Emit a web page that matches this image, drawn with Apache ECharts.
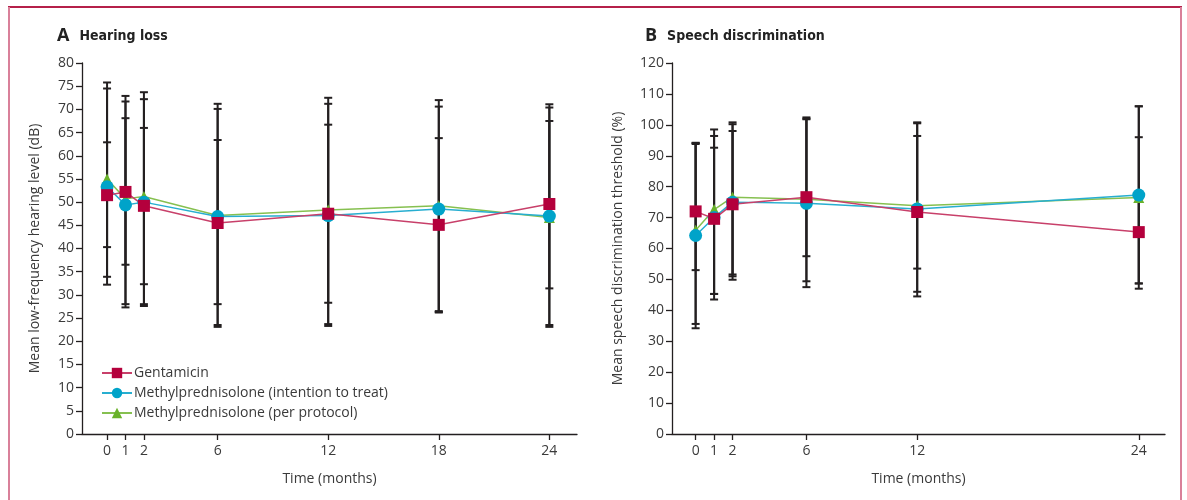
<!DOCTYPE html>
<html>
<head>
<meta charset="utf-8">
<script src="https://cdn.jsdelivr.net/npm/echarts@6/dist/echarts.min.js"></script>
<style>
  html, body { margin: 0; padding: 0; background: #fff; }
  #chart { width: 1187px; height: 500px; }
</style>
</head>
<body>
<div id="chart"></div>
<script>
// ---------- data ----------
const monthsA = [0, 1, 2, 6, 12, 18, 24];
const monthsB = [0, 1, 2, 6, 12, 24];

const gentA    = [51.5, 52.2, 49.2, 45.5, 47.5, 45.1, 49.6];
const gentA_lo = [40.3, 36.5, 32.3, 28.0, 28.3, 26.5, 31.4];
const gentA_hi = [62.9, 68.1, 66.0, 63.4, 66.7, 63.8, 67.5];
const ittA     = [53.3, 49.4, 50.0, 46.9, 47.1, 48.5, 47.0];
const ittA_lo  = [32.2, 27.3, 27.6, 23.5, 23.3, 26.3, 23.5];
const ittA_hi  = [74.5, 71.7, 72.2, 70.1, 71.2, 70.6, 70.4];
const ppA      = [55.0, 50.7, 51.2, 47.1, 48.3, 49.2, 46.7];
const ppA_lo   = [33.9, 28.0, 28.0, 23.1, 23.7, 26.2, 23.1];
const ppA_hi   = [75.8, 72.9, 73.7, 71.2, 72.5, 72.0, 71.1];

const gentB    = [72.0, 69.6, 74.3, 76.6, 71.8, 65.3];
const gentB_lo = [53.0, 45.3, 51.0, 57.5, 53.5, 48.7];
const gentB_hi = [94.1, 92.6, 98.0, 102.0, 96.4, 96.0];
const ittB     = [64.2, 70.0, 75.0, 74.6, 72.8, 77.3];
const ittB_lo  = [34.2, 43.5, 49.9, 47.5, 46.0, 48.7];
const ittB_hi  = [94.2, 96.4, 100.2, 101.8, 100.5, 106.0];
const ppB      = [65.9, 72.6, 76.6, 75.9, 73.8, 76.5];
const ppB_lo   = [35.6, 45.3, 51.6, 49.4, 44.5, 47.0];
const ppB_hi   = [93.8, 98.5, 100.8, 102.4, 100.8, 106.0];

const seriesNames = ['Gentamicin', 'Methylprednisolone (intention to treat)', 'Methylprednisolone (per protocol)'];
const yTicksA = { min: 0, max: 80, interval: 5 };
const yTicksB = { min: 0, max: 120, interval: 10 };

// ---------- styles ----------
const FONT = "'Open Sans', 'Noto Sans', sans-serif";
const TITLE_FONT = "'Liberation Sans Narrow', 'DejaVu Sans Condensed', 'Roboto', sans-serif";
const AXIS = '#231f20';
const TXT = '#3a3a3a';
const C_GENT = '#b4003c', L_GENT = '#c8406a';
const C_ITT = '#00a3c9', L_ITT = '#27aed0';
const C_PP = '#69b22a', L_PP = '#86c050';

const zip = (x, y) => x.map((v, i) => [v, y[i]]);
const zip3 = (x, a, b) => x.map((v, i) => [v, a[i], b[i]]);

function errRender(params, api) {
  const x = api.value(0), lo = api.value(1), hi = api.value(2);
  const pLo = api.coord([x, lo]), pHi = api.coord([x, hi]);
  const w = 4;
  const style = { stroke: AXIS, lineWidth: 2 };
  return {
    type: 'group',
    children: [
      { type: 'line', shape: { x1: pLo[0], y1: pLo[1], x2: pHi[0], y2: pHi[1] }, style },
      { type: 'line', shape: { x1: pLo[0] - w, y1: pLo[1], x2: pLo[0] + w, y2: pLo[1] }, style },
      { type: 'line', shape: { x1: pHi[0] - w, y1: pHi[1], x2: pHi[0] + w, y2: pHi[1] }, style }
    ]
  };
}

function xAxisCfg(gridIndex, min, max, months) {
  return {
    type: 'value', gridIndex, min, max,
    name: 'Time (months)', nameLocation: 'middle', nameGap: 38,
    nameTextStyle: { fontFamily: FONT, fontSize: 14, color: TXT },
    axisLine: { show: true, onZero: false, lineStyle: { color: AXIS, width: 1.3 } },
    axisTick: { show: true, inside: false, length: 6, lineStyle: { color: AXIS, width: 1.3 }, customValues: months },
    axisLabel: { fontFamily: FONT, fontSize: 14, color: TXT, margin: 10, customValues: months },
    splitLine: { show: false }
  };
}

function yAxisCfg(gridIndex, t, name, gap) {
  return {
    type: 'value', gridIndex, min: t.min, max: t.max, interval: t.interval,
    name, nameLocation: 'middle', nameGap: gap, nameRotate: 90,
    nameTextStyle: { fontFamily: FONT, fontSize: 14, color: TXT },
    axisLine: { show: true, onZero: false, lineStyle: { color: AXIS, width: 1.3 } },
    axisTick: { show: true, inside: false, length: 6, lineStyle: { color: AXIS, width: 1.3 } },
    axisLabel: { fontFamily: FONT, fontSize: 14, color: TXT, margin: 8 },
    splitLine: { show: false }
  };
}

function lineSeries(name, data, gi, color, lcolor, symbol, size) {
  return {
    type: 'line', name, data, xAxisIndex: gi, yAxisIndex: gi,
    symbol, symbolSize: size, showAllSymbol: true,
    itemStyle: { color, opacity: 1 },
    lineStyle: { color: lcolor, width: 1.5 },
    emphasis: { disabled: true }, animation: false, z: 3
  };
}
function errSeries(data, gi) {
  return {
    type: 'custom', data, xAxisIndex: gi, yAxisIndex: gi,
    renderItem: errRender, encode: { x: 0, y: [1, 2] }, z: 1, animation: false, silent: true
  };
}

const option = {
  animation: false,
  backgroundColor: '#ffffff',
  title: [
    { left: 52, top: 22, text: '{a|A}  {b|Hearing loss}',
      textStyle: { rich: {
        a: { fontFamily: FONT, fontSize: 18, fontWeight: 'bold', color: '#222' },
        b: { fontFamily: TITLE_FONT, fontSize: 14, fontWeight: 'bold', color: '#222' } } } },
    { left: 640, top: 22, text: '{a|B}  {b|Speech discrimination}',
      textStyle: { rich: {
        a: { fontFamily: FONT, fontSize: 18, fontWeight: 'bold', color: '#222' },
        b: { fontFamily: TITLE_FONT, fontSize: 14, fontWeight: 'bold', color: '#222' } } } }
  ],
  legend: {
    orient: 'vertical', left: 96, top: 361, itemGap: 6,
    itemWidth: 30, itemHeight: 13,
    data: seriesNames,
    textStyle: { fontFamily: FONT, fontSize: 14, color: TXT, padding: [0, 0, 0, -3] },
    selectedMode: false
  },
  grid: [
    { left: 82, top: 63, width: 495, height: 371 },
    { left: 672, top: 63, width: 493, height: 371 }
  ],
  xAxis: [
    xAxisCfg(0, -1.36, 25.5, monthsA),
    xAxisCfg(1, -1.28, 25.42, monthsB)
  ],
  yAxis: [
    yAxisCfg(0, yTicksA, 'Mean low-frequency hearing level (dB)', 40),
    yAxisCfg(1, yTicksB, 'Mean speech discrimination threshold (%)', 47)
  ],
  series: [
    errSeries(zip3(monthsA, ppA_lo, ppA_hi), 0),
    errSeries(zip3(monthsA, ittA_lo, ittA_hi), 0),
    errSeries(zip3(monthsA, gentA_lo, gentA_hi), 0),
    errSeries(zip3(monthsB, ppB_lo, ppB_hi), 1),
    errSeries(zip3(monthsB, ittB_lo, ittB_hi), 1),
    errSeries(zip3(monthsB, gentB_lo, gentB_hi), 1),
    lineSeries(seriesNames[2], zip(monthsA, ppA), 0, C_PP, L_PP, 'triangle', 11),
    lineSeries(seriesNames[1], zip(monthsA, ittA), 0, C_ITT, L_ITT, 'circle', 13),
    lineSeries(seriesNames[0], zip(monthsA, gentA), 0, C_GENT, L_GENT, 'rect', 12),
    lineSeries(seriesNames[2], zip(monthsB, ppB), 1, C_PP, L_PP, 'triangle', 11),
    lineSeries(seriesNames[1], zip(monthsB, ittB), 1, C_ITT, L_ITT, 'circle', 13),
    lineSeries(seriesNames[0], zip(monthsB, gentB), 1, C_GENT, L_GENT, 'rect', 12)
  ],
  graphic: [
    { type: 'line', shape: { x1: 8, y1: 7, x2: 1182, y2: 7 }, style: { stroke: '#b5204a', lineWidth: 2 }, silent: true },
    { type: 'line', shape: { x1: 9, y1: 7, x2: 9, y2: 500 }, style: { stroke: '#d9809a', lineWidth: 2 }, silent: true },
    { type: 'line', shape: { x1: 1181, y1: 7, x2: 1181, y2: 500 }, style: { stroke: '#d9809a', lineWidth: 2 }, silent: true }
  ]
};

const chart = echarts.init(document.getElementById('chart'), null, { renderer: 'canvas' });
chart.setOption(option);
</script>
</body>
</html>
